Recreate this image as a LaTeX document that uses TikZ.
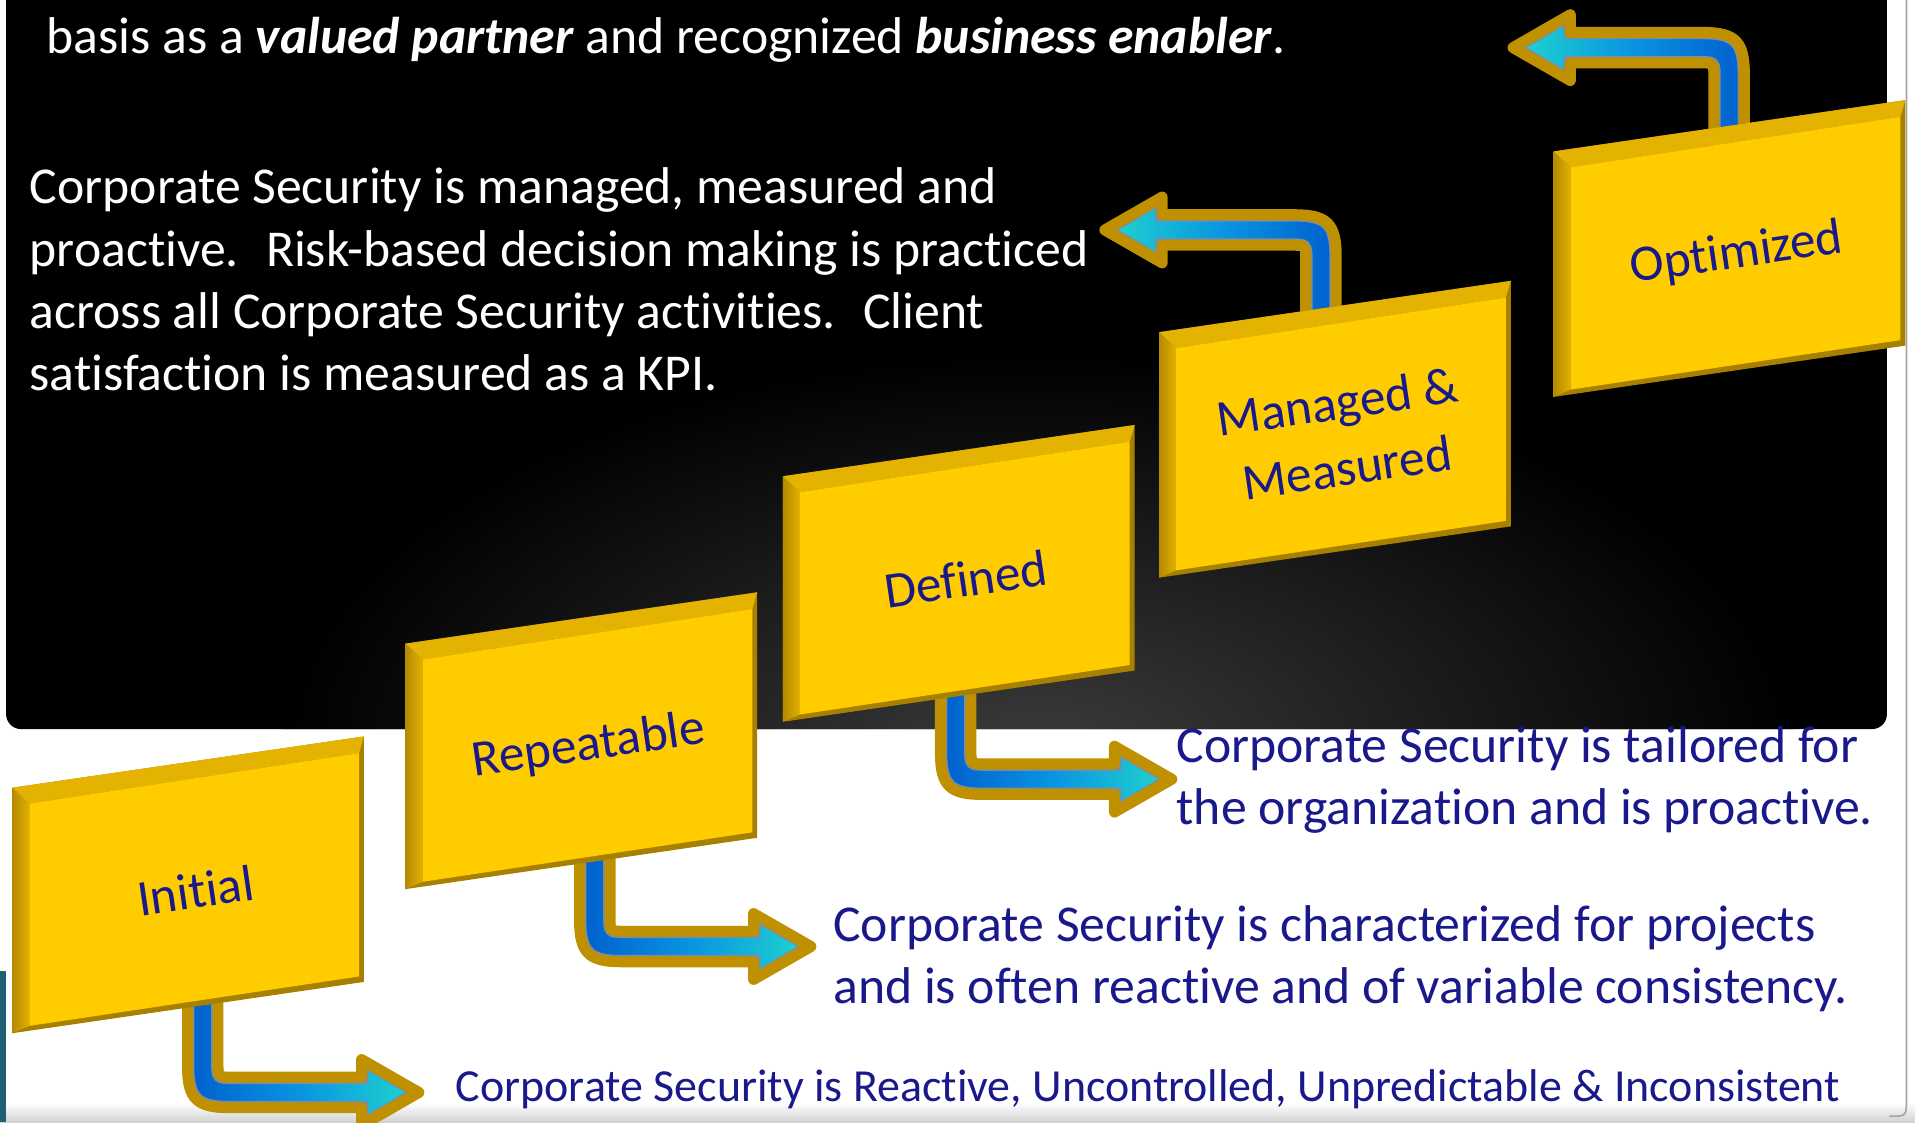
\documentclass[tikz,border=0pt]{standalone}
\usepackage{fontspec}
\setmainfont{Carlito}[Ligatures=NoCommon]
\definecolor{navy}{RGB}{25,25,140}
\definecolor{gface}{RGB}{255,204,0}
\definecolor{gtop}{RGB}{228,178,0}
\definecolor{gdark}{RGB}{168,128,0}
\definecolor{gleftA}{RGB}{180,138,0}
\definecolor{gleftB}{RGB}{226,176,0}
\definecolor{agold}{RGB}{191,144,0}
\definecolor{ablue}{RGB}{0,95,205}
\definecolor{amid}{RGB}{10,150,225}
\definecolor{acyan}{RGB}{32,215,205}
\definecolor{aline}{RGB}{125,140,160}
\definecolor{glow}{RGB}{60,60,60}
\definecolor{lteal}{RGB}{30,95,115}

\newcommand{\gbox}[4]{%
  \fill[gdark] ({#2},{#3}) -- ({#2+288},{#3-42}) -- ({#2+288},{#3+159}) -- ({#2},{#3+201}) -- cycle;
  \fill[gtop] ({#2},{#3}) -- ({#2+288},{#3-42}) -- ({#2+284},{#3-28.4}) -- ({#2+14},{#3+13}) -- cycle;
  \shade[left color=gleftA, right color=gleftB] ({#2},{#3}) -- ({#2+14},{#3+13}) -- ({#2+14},{#3+195}) -- ({#2},{#3+201}) -- cycle;
  \fill[gface] ({#2+14},{#3+13}) -- ({#2+284},{#3-28.4}) -- ({#2+284},{#3+154.5}) -- ({#2+14},{#3+195}) -- cycle;
  \node[boxlabel] (#1) at ({#2+150},{#3+84}) {#4};
}

% #1 cx, #2 cy, #3 sign (+1 down-right, -1 up-left), #4 shaft length, #5/#6 shading colours
\newcommand{\barrow}[6]{%
  \def\apath{({#1-(#3)*12.5},{#2-(#3)*#4}) -- ({#1-(#3)*12.5},{#2-(#3)*21.5})
    .. controls ({#1-(#3)*12.5},{#2+(#3)*5}) and ({#1-(#3)*5},{#2+(#3)*12.5}) .. ({#1+(#3)*21.5},{#2+(#3)*12.5})
    -- ({#1+(#3)*130},{#2+(#3)*12.5}) -- ({#1+(#3)*130},{#2+(#3)*27})
    -- ({#1+(#3)*177},{#2}) -- ({#1+(#3)*130},{#2-(#3)*27})
    -- ({#1+(#3)*130},{#2-(#3)*12.5}) -- ({#1+(#3)*24.5},{#2-(#3)*12.5})
    .. controls ({#1+(#3)*12.5},{#2-(#3)*12.5}) .. ({#1+(#3)*12.5},{#2-(#3)*24.5})
    -- ({#1+(#3)*12.5},{#2-(#3)*#4}) -- cycle}%
  \shade[left color=#5, right color=#6, middle color=amid] \apath;
  \begin{scope}
    \clip \apath;
    \draw[aline, line width=6.4pt] \apath;
  \end{scope}
  \draw[agold, line width=5.1pt, line join=round] \apath;
}

\begin{document}
\begin{tikzpicture}[x=0.02cm, y=-0.02cm,
  boxlabel/.style={text=navy, font=\fontsize{23.9}{31}\selectfont, rotate=8.3, align=center, inner sep=0pt},
  wtext/.style={text=white, font=\fontsize{24.1}{29}\selectfont, anchor=base west, inner sep=0pt},
  btext/.style={text=navy, font=\fontsize{24.1}{29}\selectfont, anchor=base west, inner sep=0pt},
  bsmall/.style={text=navy, font=\fontsize{21.4}{26}\selectfont, anchor=base west, inner sep=0pt}]
\useasboundingbox (0,0) rectangle (1568,919);
\begin{scope}
\clip (0,0) rectangle (1568,919);
\fill[white] (0,0) rectangle (1568,919);
\shade[top color=white, bottom color=black!18] (0,903) rectangle (1568,919);
\draw[black!35, line width=0.8pt] (1561,-5) -- (1561,900) .. controls (1561,914) .. (1547,914);
\fill[lteal] (0,795) rectangle (5,919);

% black panel with glow
\begin{scope}
  \clip[rounded corners=7pt] (5,-30) rectangle (1545,597);
  \fill[black] (0,-30) rectangle (1568,600);
  \shade[inner color=glow, outer color=black] (850,620) ellipse [x radius=12.4cm, y radius=6.6cm];
\end{scope}

% arrows
\barrow{166}{894.5}{1}{80}{ablue}{acyan}
\barrow{487}{775}{1}{80}{ablue}{acyan}
\barrow{782.5}{638}{1}{78}{ablue}{acyan}
\barrow{1081.6}{188.3}{-1}{74}{acyan}{ablue}
\barrow{1415.8}{39}{-1}{74}{acyan}{ablue}

% step boxes
\gbox{initial}{10}{645}{Initial}
\gbox{repeatable}{332}{527}{Repeatable}
\gbox{defined}{641}{390}{Defined}
\gbox{managed}{949}{272}{Managed \&\\Measured}
\gbox{optimized}{1272}{124}{Optimized}

% texts on black
\node[wtext] (top) at (38,44) {basis as a \textbf{\textit{valued partner}} and recognized \textbf{\textit{business enabler}}.};
\node[wtext] (w1) at (24,167) {Corporate Security is managed, measured and};
\node[wtext] (w2) at (24,218) {proactive.~ Risk-based decision making is practiced};
\node[wtext] (w3) at (24,269) {across all Corporate Security activities.~ Client};
\node[wtext] (w4) at (24,320) {satisfaction is measured as a KPI.};

% blue texts
\node[btext] (d1) at (963,624) {Corporate Security is tailored for};
\node[btext] (d2) at (963,675) {the organization and is proactive.};
\node[btext] (r1) at (682,771) {Corporate Security is characterized for projects};
\node[btext] (r2) at (682,822) {and is often reactive and of variable consistency.};
\node[bsmall] (i1) at (373,902) {Corporate Security is Reactive, Uncontrolled, Unpredictable \& Inconsistent};
\end{scope}
\end{tikzpicture}
\end{document}
